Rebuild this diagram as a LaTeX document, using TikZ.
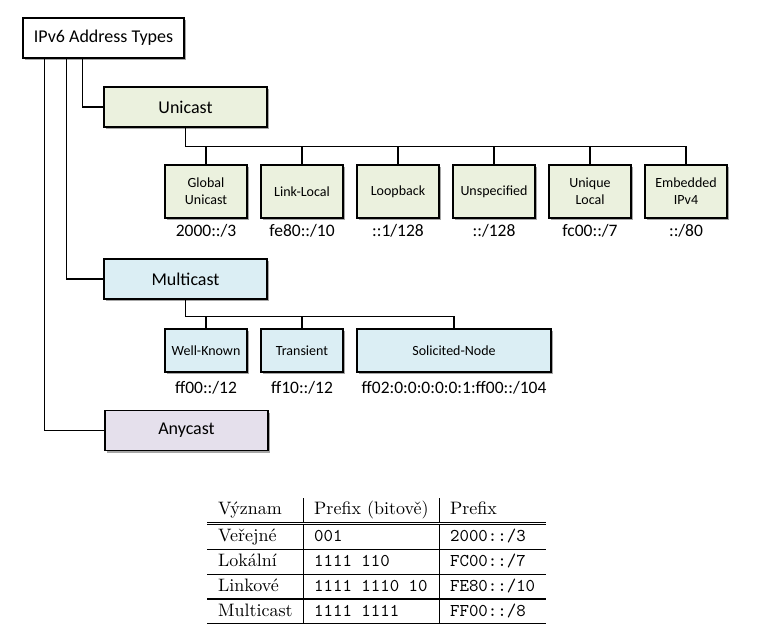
\documentclass[tikz,border=0pt]{standalone}
\usepackage{fontspec}
\usepackage{graphicx}
\newfontfamily\calibri{Carlito}
\usetikzlibrary{shadows}

\definecolor{unigreen}{HTML}{EBF1DE}
\definecolor{multiblue}{HTML}{DBEEF4}
\definecolor{anylilac}{HTML}{E5E0EC}

\tikzset{
    boxshadow/.style={drop shadow={shadow xshift=2pt, shadow yshift=-2pt, opacity=0.35, fill=black}},
    typebox/.style={draw, line width=1.4pt, minimum width=163pt, minimum height=40pt,
        font=\calibri\fontsize{18}{22}\selectfont, boxshadow},
    subbox/.style={draw, line width=1.3pt, minimum width=82pt, inner sep=1pt, align=center,
        font=\calibri\fontsize{14}{17}\selectfont, boxshadow},
    pfxlabel/.style={font=\calibri\fontsize{17.5}{20}\selectfont},
    wire/.style={line width=1.3pt}
}

\begin{document}
\begin{tikzpicture}[x=1pt,y=-1pt]
    \useasboundingbox (0,0) rectangle (771,626);

    % Adresstypen
    \node[typebox, fill=white, minimum width=161pt] (root) at (103.5,38) {IPv6 Address Types};
    \node[typebox, fill=unigreen] (uni) at (185.5,107) {Unicast};
    \node[typebox, fill=multiblue] (multi) at (185.5,279) {Multicast};
    \node[typebox, fill=anylilac] (any) at (186.5,430.5) {Anycast};

    \draw[wire] ([xshift=22pt]root.south west) |- (any.west);
    \draw[wire] ([xshift=44pt]root.south west) |- (multi.west);
    \draw[wire] ([xshift=60pt]root.south west) |- (uni.west);

    % Unicast
    \foreach \nm/\xc/\txt/\pfx in {gua/206/{Global\\Unicast}/{2000::/3},
            lla/302/{Link-Local}/{fe80::/10}, lback/398/{Loopback}/{::1/128},
            unsp/494/{Unspecified}/{::/128}, ula/590/{Unique\\Local}/{fc00::/7},
            emb/686/{Embedded\\IPv4}/{::/80}} {
        \node[subbox, fill=unigreen, minimum height=53pt] (\nm) at (\xc,191.5) {\txt};
        \node[pfxlabel] (\nm-pfx) at (\xc,231) {\pfx};
        \draw[wire] (uni.south) -- ++(0,19) -| (\nm.north);
    }

    % Multicast
    \foreach \nm/\xc/\bw/\txt/\pfx in {wk/206/82/{Well-Known}/{ff00::/12},
            trans/302/82/{Transient}/{ff10::/12},
            sol/454/194/{Solicited-Node}/{ff02:0:0:0:0:0:1:ff00::/104}} {
        \node[subbox, fill=multiblue, minimum height=43pt, minimum width=\bw pt] (\nm) at (\xc,350.5) {\txt};
        \node[pfxlabel] (\nm-pfx) at (\xc,388) {\pfx};
        \draw[wire] (multi.south) -- ++(0,17) -| (\nm.north);
    }

    % Tabelle
    \node[anchor=north west, inner sep=0pt] (tab) at (207,498) {%
        \scalebox{1.8}{%
        \renewcommand{\arraystretch}{1.09}%
        \setlength{\arrayrulewidth}{0.7pt}%
        \setlength{\doublerulesep}{1.2pt}%
        \begin{tabular}{l|l|l}
            Význam & Prefix (bitově) & Prefix \\ \hline\hline
            Veřejné & \texttt{001} & \texttt{2000::/3} \\ \hline
            Lokální & \texttt{1111 110} & \texttt{FC00::/7} \\ \hline
            Linkové & \texttt{1111 1110 10} & \texttt{FE80::/10} \\ \hline
            Multicast & \texttt{1111 1111} & \texttt{FF00::/8} \\ \hline
        \end{tabular}}};
\end{tikzpicture}
\end{document}
